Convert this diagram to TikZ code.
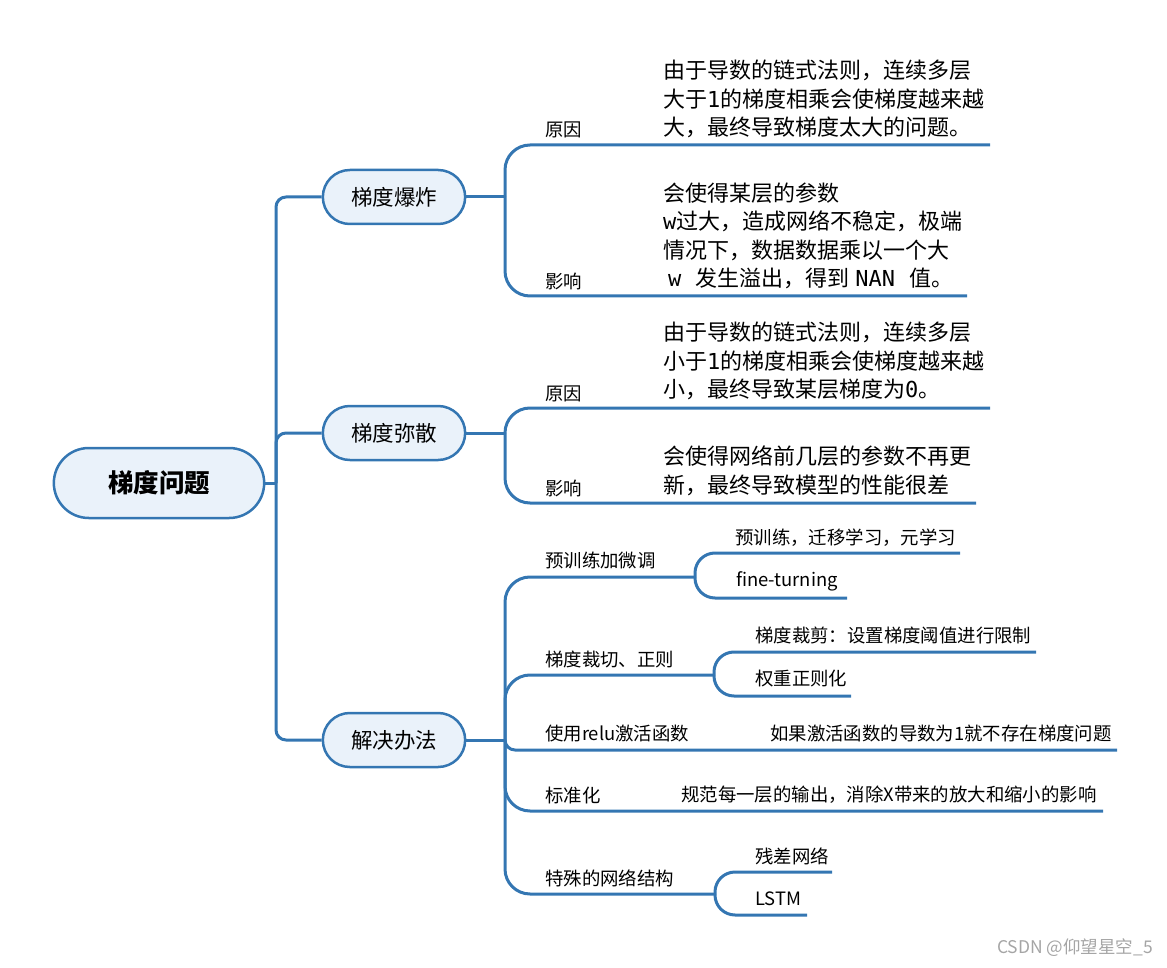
\documentclass[tikz,border=0pt]{standalone}
\usepackage{fontspec}
\setmainfont{Noto Sans CJK SC}
\setmonofont{DejaVu Sans Mono}
\usetikzlibrary{shapes.misc}
\definecolor{mapblue}{RGB}{52,118,178}
\definecolor{mapfill}{RGB}{234,242,250}
\definecolor{markgray}{RGB}{165,165,165}
\tikzset{
  topic/.style={rounded rectangle, draw=mapblue, fill=mapfill, line width=2.5pt,
    minimum width=149pt, minimum height=54pt, font=\fontsize{21.5}{25}\selectfont},
  branch/.style={draw=mapblue, line width=3pt, rounded corners=25pt},
  lbl/.style={anchor=west, inner sep=0pt, font=\fontsize{18.4}{22}\selectfont},
  note/.style={anchor=west, inner sep=0pt, align=left, font=\fontsize{22}{28.5}\selectfont},
}
\begin{document}
\begin{tikzpicture}[x=1pt, y=-1pt]
    \useasboundingbox (0,0) rectangle (1167,968);

    % Root and first level topics
    \node[topic, minimum width=217pt, minimum height=70pt, font=\bfseries\fontsize{25.5}{30}\selectfont] (root) at (159,483) {梯度问题};
    \node[topic] (boom) at (394,197) {梯度爆炸};
    \node[topic] (vanish) at (394,433) {梯度弥散};
    \node[topic] (fix) at (394,740) {解决办法};

    \coordinate (trunk) at (276,483);
    \draw[branch] (root.east) -- (trunk);
    \foreach \t in {boom, vanish, fix} {
        \draw[branch, rounded corners=10pt] (trunk) |- (\t.west);
    }

    % Gradient explosion
    \coordinate (boomhub) at (505,197);
    \draw[branch] (boom.east) -- (boomhub);
    \node[lbl] (boomwhy) at (545,130) {原因};
    \node[note] (boomwhytext) at (663,99) {由于导数的链式法则，连续多层\\大于{\ttfamily 1}的梯度相乘会使梯度越来越\\大，最终导致梯度太大的问题。};
    \node[lbl] (boomeff) at (545,281) {影响};
    \node[note] (boomefftext) at (663,236) {会使得某层的参数\\{\ttfamily w}过大，造成网络不稳定，极端\\情况下，数据数据乘以一个大\\\hspace*{5pt}{\ttfamily w}\hspace{14pt}发生溢出，得到\hspace{6pt}{\ttfamily NAN}\hspace{14pt}值。};
    \coordinate (boomwhyend) at (990,145);
    \coordinate (boomeffend) at (967,296);
    \draw[branch] (boomhub) |- (boomwhyend);
    \draw[branch] (boomhub) |- (boomeffend);

    % Gradient vanishing
    \coordinate (vanishhub) at (505,433);
    \draw[branch] (vanish.east) -- (vanishhub);
    \node[lbl] (vanishwhy) at (545,394) {原因};
    \node[note] (vanishwhytext) at (663,361) {由于导数的链式法则，连续多层\\小于{\ttfamily 1}的梯度相乘会使梯度越来越\\小，最终导致某层梯度为{\ttfamily 0}。};
    \node[lbl] (vanisheff) at (545,488) {影响};
    \node[note] (vanishefftext) at (663,471) {会使得网络前几层的参数不再更\\新，最终导致模型的性能很差};
    \coordinate (vanishwhyend) at (990,408);
    \coordinate (vanisheffend) at (976,503);
    \draw[branch] (vanishhub) |- (vanishwhyend);
    \draw[branch] (vanishhub) |- (vanisheffend);

    % Solutions
    \coordinate (fixhub) at (505,740);
    \draw[branch] (fix.east) -- (fixhub);
    \foreach \n/\y/\txt in {pre/560/预训练加微调, clip/659/梯度裁切、正则, relu/734/使用relu激活函数, norm/796/标准化, net/878/特殊的网络结构} {
        \node[lbl] (\n) at (545,\y) {\txt};
    }
    \coordinate (prehub) at (695,577);
    \coordinate (cliphub) at (714,675);
    \coordinate (reluend) at (1117,750);
    \coordinate (normend) at (1103,811);
    \coordinate (nethub) at (715,894);
    \draw[branch] (fixhub) |- (prehub);
    \draw[branch] (fixhub) |- (cliphub);
    \draw[branch, rounded corners=10pt] (fixhub) |- (reluend);
    \draw[branch] (fixhub) |- (normend);
    \draw[branch] (fixhub) |- (nethub);

    % Leaves of the solutions
    \node[lbl] (pretrain) at (735,538) {预训练，迁移学习，元学习};
    \node[lbl] (finetune) at (736,581) {fine-turning};
    \node[lbl] (clipping) at (755,635) {梯度裁剪：设置梯度阈值进行限制};
    \node[lbl] (weightreg) at (755,679) {权重正则化};
    \node[lbl] (relutext) at (770,733) {如果激活函数的导数为1就不存在梯度问题};
    \node[lbl] (normtext) at (681,795) {规范每一层的输出，消除X带来的放大和缩小的影响};
    \node[lbl] (resnet) at (755,856) {残差网络};
    \node[lbl] (lstm) at (755,899) {LSTM};
    \coordinate (pretrainend) at (960,553);
    \coordinate (finetuneend) at (847,598);
    \coordinate (clippingend) at (1036,652);
    \coordinate (weightregend) at (851,696);
    \coordinate (resnetend) at (832,872);
    \coordinate (lstmend) at (807,915);
    \draw[branch, rounded corners=20pt] (prehub) |- (pretrainend);
    \draw[branch, rounded corners=20pt] (prehub) |- (finetuneend);
    \draw[branch, rounded corners=20pt] (cliphub) |- (clippingend);
    \draw[branch, rounded corners=20pt] (cliphub) |- (weightregend);
    \draw[branch, rounded corners=20pt] (nethub) |- (resnetend);
    \draw[branch, rounded corners=20pt] (nethub) |- (lstmend);

    \node[anchor=east, inner sep=0pt, text=markgray, font=\fontsize{17.5}{20}\selectfont] (mark) at (1153,948) {CSDN @仰望星空\_5};
\end{tikzpicture}
\end{document}
